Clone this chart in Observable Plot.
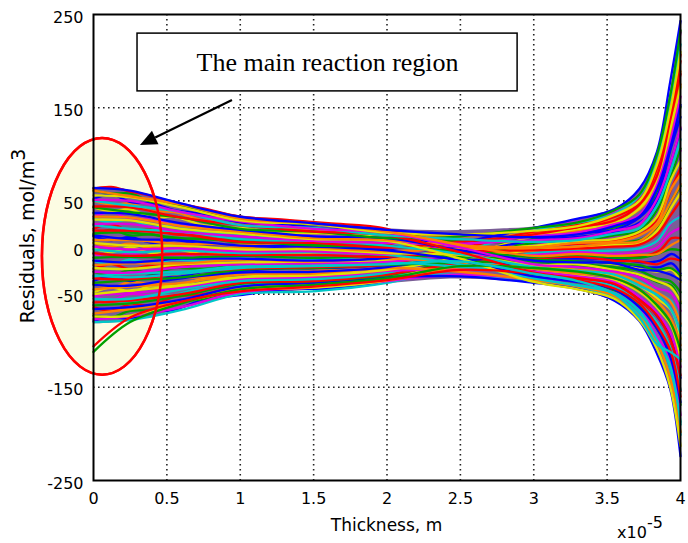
<!DOCTYPE html>
<html><head><meta charset="utf-8">
<script src="https://cdn.jsdelivr.net/npm/d3@7"></script>
<script src="https://cdn.jsdelivr.net/npm/@observablehq/plot@0.6"></script>
<style>body{margin:0;background:#fff}</style>
</head><body><div id="chart"></div>
<script>
// thickness positions (x 1e-5 m)
const xs = [0, 0.25, 0.6, 1.0, 1.5, 2.0, 2.5, 3.0, 3.3, 3.55, 3.72, 3.84, 3.93, 4.0];
const xs2 = [0, 0.12, 0.25, 0.4, 0.55, 0.75, 1.0, 1.3, 1.6, 2.0, 2.4, 2.8, 3.1, 3.4, 3.6, 3.75, 3.86, 3.94, 4.0];
// residual curves, mol/m^3
const r01 = [-80, -78, -67, -50, -47, -38, -20, -6, -4, -3, -1, 7, 26, 33];
const r02 = [-77, -74, -64, -48, -43, -36, -29, -34, -37, -49, -65, -95, -120, -180];
const r03 = [-74, -73, -59, -46, -43, -35, -11, 12, 20, 26, 42, 70, 127, 172];
const r04 = [-71, -66, -58, -44, -40, -35, -22, -20, -24, -27, -38, -48, -58, -82];
const r05 = [-66, -64, -56, -42, -38, -32, -31, -38, -44, -57, -79, -114, -152, -224];
const r06 = [-62, -60, -52, -39, -36, -30, -13, 5, 7, 13, 18, 40, 74, 106];
const r07 = [-59, -57, -50, -38, -36, -29, -17, -12, -10, -14, -15, -18, -12, -14];
const r08 = [-55, -55, -45, -36, -34, -27, -5, 18, 27, 36, 56, 92, 160, 218];
const r09 = [-51, -49, -43, -33, -31, -25, -24, -26, -31, -37, -53, -70, -91, -128];
const r10 = [-50, -46, -41, -32, -30, -24, -11, -3, 1, 3, 4, 18, 41, 59];
const r11 = [-45, -42, -38, -29, -28, -22, -26, -35, -42, -52, -74, -102, -140, -198];
const r12 = [-40, -41, -33, -27, -26, -21, -7, 8, 15, 19, 32, 55, 104, 140];
const r13 = [-38, -35, -32, -24, -22, -19, -16, -15, -18, -21, -25, -33, -36, -48];
const r14 = [-33, -34, -28, -23, -21, -18, -1, 17, 22, 33, 47, 85, 140, 200];
const r15 = [-31, -28, -26, -20, -19, -16, -21, -29, -35, -42, -60, -80, -107, -153];
const r16 = [-26, -27, -21, -18, -17, -15, -9, -8, -5, -7, -5, 0, 15, 21];
const r17 = [-22, -23, -18, -16, -15, -13, -4, 2, 7, 9, 17, 33, 71, 93];
const r18 = [-19, -17, -17, -13, -15, -12, -16, -23, -28, -32, -46, -58, -75, -105];
const r19 = [-14, -16, -12, -12, -14, -11, 5, 21, 31, 41, 63, 103, 178, 243];
const r20 = [-11, -10, -11, -9, -11, -9, -10, -13, -15, -17, -19, -24, -22, -30];
const r21 = [-6, -9, -7, -8, -8, -10, -4, -3, -1, 1, 3, 14, 34, 50];
const r22 = [-2, -5, -3, -6, -5, -8, -18, -33, -41, -49, -68, -99, -127, -190];
const r23 = [1, -2, -1, -4, -4, -7, 3, 12, 16, 25, 35, 67, 114, 162];
const r24 = [5, 2, 2, -2, -2, -6, -8, -19, -18, -24, -29, -36, -42, -58];
const r25 = [8, 8, 4, 3, 0, -4, -1, 0, 5, 6, 13, 26, 61, 78];
const r26 = [13, 9, 8, 2, 1, -3, -14, -31, -37, -45, -64, -87, -117, -166];
const r27 = [15, 16, 10, 7, 2, 1, -4, -10, -8, -11, -11, -7, -2, -3];
const r28 = [18, 18, 14, 6, 5, 0, 6, 14, 22, 29, 46, 77, 137, 186];
const r29 = [24, 20, 17, 9, 7, 2, -7, -21, -25, -29, -41, -51, -65, -92];
const r30 = [25, 25, 17, 12, 7, 5, 4, 8, 10, 18, 25, 52, 90, 129];
const r31 = [30, 29, 20, 15, 9, 7, -12, -37, -45, -55, -78, -109, -150, -213];
const r32 = [33, 32, 23, 17, 10, 8, 2, 0, 1, 5, 7, 23, 48, 68];
const r33 = [37, 36, 26, 19, 12, 10, -3, -14, -16, -17, -24, -25, -29, -35];
const r34 = [43, 38, 32, 20, 17, 10, 12, 21, 27, 40, 57, 100, 163, 233];
const r35 = [44, 43, 32, 24, 17, 13, -5, -27, -33, -39, -56, -73, -98, -137];
const r36 = [50, 45, 38, 24, 21, 13, 9, 6, 8, 15, 21, 45, 81, 116];
const r37 = [51, 50, 38, 28, 20, 16, 0, -18, -21, -26, -32, -44, -48, -68];
const r38 = [56, 54, 43, 29, 25, 16, 14, 18, 23, 35, 50, 89, 147, 210];
const r39 = [61, 55, 46, 31, 26, 17, 3, -9, -7, -9, -8, -7, 2, 8];
const r40 = [64, 61, 47, 33, 26, 19, 14, 11, 14, 23, 33, 63, 107, 153];
const r41 = [-112, -80, -60, -45, -40, -33, -20, -22, -26, -33, -45, -62, -80, -110];
const r42 = [-106, -75, -58, -47, -42, -35, -24, -28, -35, -44, -60, -84, -110, -160];
const r43 = [-30, -32, -28, -22, -20, -18, -15, -28, -36, -50, -75, -104, -112, -120];
// second family, on xs2
const s01 = [-79, -74, -77, -69, -67, -56, -51, -45, -44, -37, -15, -7, 8, 13, 19, 30, 56, 95, 127];
const s02 = [-73, -75, -68, -67, -59, -55, -45, -44, -39, -36, -24, -21, -18, -21, -24, -31, -38, -41, -60];
const s03 = [-64, -68, -61, -62, -53, -50, -41, -40, -35, -33, -7, 2, 19, 27, 37, 56, 96, 153, 207];
const s04 = [-61, -57, -60, -52, -51, -43, -40, -35, -34, -29, -29, -32, -38, -46, -57, -77, -108, -143, -201];
const s05 = [-52, -56, -50, -51, -44, -42, -34, -34, -30, -28, -15, -11, -5, -4, -3, -1, 9, 27, 34];
const s06 = [-48, -43, -47, -41, -41, -34, -32, -28, -28, -24, -22, -23, -27, -32, -38, -51, -68, -85, -122];
const s07 = [-39, -43, -37, -39, -33, -32, -27, -27, -24, -22, -5, 2, 14, 21, 30, 45, 80, 129, 175];
const s08 = [-36, -31, -36, -30, -32, -26, -25, -22, -22, -19, -14, -13, -12, -12, -13, -16, -14, -7, -13];
const s09 = [-26, -30, -24, -28, -22, -23, -19, -20, -17, -17, -21, -25, -33, -40, -49, -67, -92, -119, -169];
const s10 = [-23, -18, -23, -19, -21, -16, -18, -15, -16, -14, -6, -3, 2, 5, 9, 16, 35, 64, 85];
const s11 = [-14, -18, -13, -17, -13, -15, -12, -14, -12, -13, -15, -17, -22, -25, -30, -39, -50, -58, -84];
const s12 = [-7, -11, -6, -11, -8, -10, -8, -10, -9, -9, 4, 10, 22, 31, 43, 63, 108, 170, 231];
const s13 = [-1, -5, 0, -6, -2, -7, -4, -7, -5, -8, -10, -11, -15, -16, -19, -24, -26, -24, -37];
const s14 = [5, 1, 4, -1, 2, -3, 0, -4, -2, -5, -3, -3, -2, 0, 3, 7, 21, 44, 57];
const s15 = [12, 8, 11, 5, 8, 3, 4, 0, 1, -2, -13, -18, -29, -35, -43, -57, -78, -99, -140];
const s16 = [14, 19, 13, 14, 9, 10, 5, 5, 2, 1, 4, 7, 11, 17, 24, 37, 68, 112, 151];
const s17 = [20, 25, 18, 20, 14, 13, 8, 8, 5, 3, -2, -5, -9, -8, -8, -9, -3, 10, 10];
const s18 = [31, 27, 30, 22, 24, 16, 15, 10, 10, 6, -12, -20, -36, -43, -53, -73, -101, -133, -187];
const s19 = [33, 38, 31, 31, 24, 23, 16, 15, 11, 9, 5, 5, 5, 9, 14, 22, 45, 78, 104];
const s20 = [43, 39, 41, 32, 33, 24, 21, 16, 15, 10, -5, -11, -23, -27, -33, -44, -57, -68, -98];
const s21 = [50, 46, 47, 39, 38, 29, 25, 20, 19, 13, 12, 13, 16, 24, 33, 50, 87, 139, 189];
const s22 = [52, 57, 49, 47, 40, 36, 27, 25, 20, 16, 1, -4, -14, -15, -17, -21, -21, -17, -28];
const s23 = [61, 58, 58, 49, 47, 38, 32, 27, 24, 18, 7, 5, -1, 2, 5, 10, 26, 51, 66];
const s24 = [63, 65, 60, 55, 48, 42, 33, 30, 26, 20, -4, -14, -31, -37, -46, -62, -85, -109, -154];
// envelope of the bundle (on xs2)
const envTop = [64, 65, 61, 55, 50, 42, 34, 30, 26, 20, 18, 20, 24, 34, 46, 68, 112, 175, 243];
const envBottom = [-82, -81, -79, -74, -68, -60, -52, -48, -44, -39, -34, -36, -41, -50, -62, -85, -118, -158, -222];

const familyA = [r01,r02,r03,r04,r05,r06,r07,r08,r09,r10,r11,r12,r13,r14,r15,r16,r17,r18,r19,r20,
  r21,r22,r23,r24,r25,r26,r27,r28,r29,r30,r31,r32,r33,r34,r35,r36,r37,r38,r39,r40,r41,r42,r43];
const familyB = [s01,s02,s03,s04,s05,s06,s07,s08,s09,s10,s11,s12,s13,s14,s15,s16,s17,s18,s19,s20,s21,s22,s23,s24];
const lineColors = ["#0000ff", "#00a000", "#ff0000", "#00c8c8", "#e000e0", "#e0e000", "#ff7f00"];

const xTicks = [0, 0.5, 1, 1.5, 2, 2.5, 3, 3.5, 4];
const yTicks = [-250, -150, -50, 0, 50, 150, 250];
const yGrid = [-150, -50, 0, 50, 150];

const xLabel = "Thickness, m";
const yLabel = "Residuals, mol/m";
const yLabelSup = "3";
const xExp = "x10";
const xExpSup = "-5";
const noteText = "The main reaction region";

// annotation geometry in data units
const noteBox = {x1: 0.30, x2: 2.89, y1: 167.5, y2: 229.5};
const ellipse = {cx: 0.062, cy: -10, rx: 0.41, ry: 127};
const arrow = {x1: 0.947, y1: 157.7, x2: 0.32, y2: 109.4};

const rows = [];
let k = 0;
familyB.forEach(s => { s.forEach((v, j) => rows.push({x: xs2[j], y: v, s: k})); k++; });
familyA.forEach(s => { s.forEach((v, j) => rows.push({x: xs[j], y: v, s: k})); k++; });
const env = xs2.map((x, j) => ({x, top: envTop[j], bottom: envBottom[j]}));

const plot = Plot.plot({
  width: 688, height: 543,
  marginLeft: 93, marginRight: 8, marginTop: 14, marginBottom: 63,
  x: {domain: [0, 4]},
  y: {domain: [-250, 250]},
  color: {type: "ordinal", domain: d3.range(k), range: lineColors},
  style: {fontFamily: "DejaVu Sans", fontSize: "16px", color: "black", background: "white"},
  marks: [
    Plot.gridX(xTicks.slice(1, -1), {stroke: "#222", strokeOpacity: 1, strokeWidth: 1.6, strokeDasharray: "1.6,3.4"}),
    Plot.gridY(yGrid, {stroke: "#222", strokeOpacity: 1, strokeWidth: 1.6, strokeDasharray: "1.6,3.4"}),
    Plot.areaY(env, {x: "x", y1: "bottom", y2: "top", fill: "#7a5e96", curve: "catmull-rom"}),
    Plot.line(rows, {x: "x", y: "y", z: "s", stroke: "s", strokeWidth: 2.3, curve: "catmull-rom"}),
    Plot.rect([noteBox], {x1: "x1", x2: "x2", y1: "y1", y2: "y2", fill: "white", stroke: "black", strokeWidth: 1.5}),
    Plot.text([noteBox], {x: d => (d.x1 + d.x2) / 2, y: d => (d.y1 + d.y2) / 2, text: () => noteText,
      fontFamily: "Liberation Serif", fontSize: 26, fill: "black"}),
    Plot.frame({stroke: "black", strokeWidth: 2}),
    Plot.axisX(xTicks, {tickSize: 0, tickPadding: 12, tickFormat: d => String(d), label: null, fontSize: 16}),
    Plot.axisY(yTicks, {tickSize: 0, tickPadding: 10, dy: 3, tickFormat: d => String(d), label: null, fontSize: 16})
  ]
});

const sx = plot.scale("x"), sy = plot.scale("y");
const svg = d3.select(plot);
const NS = "http://www.w3.org/2000/svg";

// ellipse behind everything
const ecx = sx.apply(ellipse.cx), ecy = sy.apply(ellipse.cy);
const erx = sx.apply(ellipse.cx + ellipse.rx) - ecx;
const ery = sy.apply(ellipse.cy) - sy.apply(ellipse.cy + ellipse.ry);
const el = document.createElementNS(NS, "ellipse");
el.setAttribute("cx", ecx); el.setAttribute("cy", ecy);
el.setAttribute("rx", erx); el.setAttribute("ry", ery);
el.setAttribute("fill", "#fcfce3"); el.setAttribute("stroke", "#ff0000"); el.setAttribute("stroke-width", 2.5);
const styleEl = plot.querySelector("style");
plot.insertBefore(el, styleEl ? styleEl.nextSibling : plot.firstChild);
const el2 = el.cloneNode();
el2.setAttribute("fill", "none");
const frameNode = plot.querySelector("[aria-label=frame]");
if (frameNode) plot.insertBefore(el2, frameNode); else plot.appendChild(el2);

// arrow
const p1 = [sx.apply(arrow.x1), sy.apply(arrow.y1)], p2 = [sx.apply(arrow.x2), sy.apply(arrow.y2)];
const dxa = p2[0] - p1[0], dya = p2[1] - p1[1], len = Math.hypot(dxa, dya);
const ux = dxa / len, uy = dya / len, hl = 17, hw = 7.5;
const bx = p2[0] - ux * hl, by = p2[1] - uy * hl;
svg.append("line").attr("x1", p1[0]).attr("y1", p1[1]).attr("x2", bx).attr("y2", by)
  .attr("stroke", "black").attr("stroke-width", 2.2);
svg.append("polygon").attr("fill", "black")
  .attr("points", [[p2[0], p2[1]], [bx - uy * hw, by + ux * hw], [bx + uy * hw, by - ux * hw]].map(p => p.join(",")).join(" "));

// axis labels
svg.append("text").attr("x", (sx.apply(0) + sx.apply(4)) / 2).attr("y", 531)
  .attr("text-anchor", "middle").attr("font-family", "DejaVu Sans").attr("font-size", 17).attr("fill", "black").text(xLabel);
const yl = svg.append("text").attr("transform", "translate(34,236) rotate(-90)")
  .attr("text-anchor", "middle").attr("font-family", "DejaVu Sans").attr("font-size", 19).attr("fill", "black");
yl.append("tspan").text(yLabel);
yl.append("tspan").attr("dy", "-0.5em").text(yLabelSup);
const ex = svg.append("text").attr("x", 640).attr("y", 538)
  .attr("font-family", "DejaVu Sans").attr("font-size", 16).attr("fill", "black");
ex.append("tspan").text(xExp);
ex.append("tspan").attr("dy", "-0.65em").text(xExpSup);

document.getElementById("chart").appendChild(plot);
</script>
</body></html>
